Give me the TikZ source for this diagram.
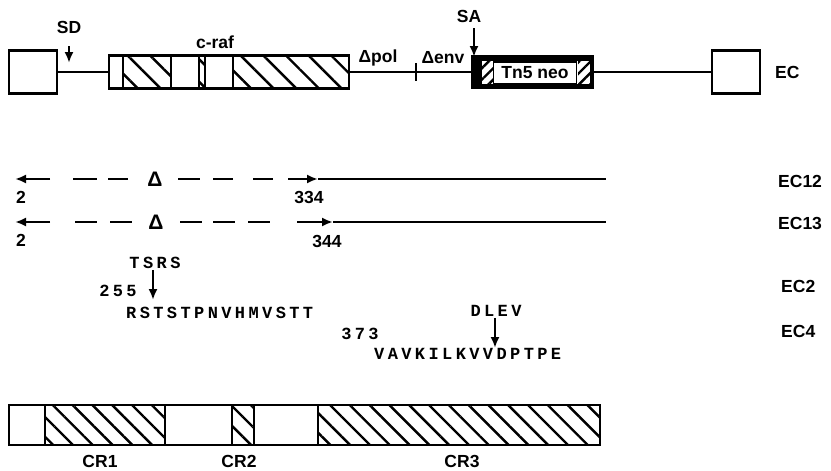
\documentclass[tikz,border=0pt]{standalone}
\usepackage{fontspec}
\setmainfont{Liberation Sans}
\newfontfamily\seqfont[LetterSpace=20]{Liberation Mono Bold}
\usetikzlibrary{arrows.meta,patterns.meta}

\begin{document}
\begin{tikzpicture}[x=1pt, y=-1pt, line width=2.4pt,
  lbl/.style={font=\bfseries\fontsize{17.5}{20}\selectfont, inner sep=0pt},
  seq/.style={font=\seqfont\fontsize{17}{19}\selectfont, inner sep=0pt},
  exon/.style={draw, minimum width=48pt, minimum height=43pt, inner sep=0pt},
  hatch/.style={pattern={Lines[angle=-45, distance=#1, line width=2.4pt]}},
  fwd/.style={-{Latex[length=11pt, width=9pt]}}]
\useasboundingbox (0,0) rectangle (831,471);

% provirus construct
\node[exon] (L) at (33,72) {};
\node[exon] (R) at (736,72) {};
\fill[hatch=16pt] (123,56) rectangle (171,88);
\fill[hatch=16pt] (199,56) rectangle (205,88);
\fill[hatch=16pt] (233,56) rectangle (349,88);
\node[draw, minimum width=240pt, minimum height=33pt, inner sep=0pt] (raf) at (229,72) {};
\foreach \x in {123,171,199,205,233} \draw (\x,56) -- (\x,88);
\node[draw, fill=black, minimum width=121pt, minimum height=32pt, inner sep=0pt] (neobox) at (532.5,72) {};
\fill[white] (482,61) rectangle (590,84);
\fill[pattern={Lines[angle=45, distance=8pt, line width=2.4pt]}] (482,61) rectangle (493,84);
\fill[pattern={Lines[angle=45, distance=8pt, line width=2.4pt]}] (578,61) rectangle (590,84);
\node[lbl, draw, line width=1.4pt, fill=white, minimum width=83pt, minimum height=22pt] (neo) at (535,73) {Tn5 neo};
\draw (L.east) -- (raf.west);
\draw (raf.east) -- (neobox.west);
\draw (neobox.east) -- (R.west);
\draw (416,63) -- (416,81);

\node[lbl] (SD) at (69,27) {SD};
\coordinate (SDp) at (69,63);
\draw[fwd] ([yshift=-12pt]SD.south) -- (SDp);
\node[lbl] (SA) at (469,16) {SA};
\coordinate (SAp) at (474,57);
\draw[fwd] ([yshift=-5pt]SA.south -| SAp) -- (SAp);
\node[lbl] (craf) at (215,42) {c-raf};
\node[lbl] (dpol) at (378,58) {Δpol};
\node[lbl] (denv) at (443,58) {Δenv};
\node[lbl, anchor=west] (EC) at (774,72) {EC};

% deletions
\coordinate (a12) at (15,179);
\coordinate (b12) at (318,179);
\coordinate (e12) at (606,179);
\draw[fwd] (50,179) -- (a12);
\foreach \a/\b in {73/97,108/128,178/200,213/233,253/273} \draw (\a,179) -- (\b,179);
\draw[fwd] (288,179) -- (b12);
\draw (b12) -- (e12);
\node[lbl, font=\bfseries\fontsize{21}{22}\selectfont] (D12) at (155,179) {Δ};
\node[lbl] (s12) at (21,197) {2};
\node[lbl] (x12) at (309,197) {334};
\node[lbl, anchor=west] (EC12) at (777,181) {EC12};

\coordinate (a13) at (15,222);
\coordinate (b13) at (333,222);
\coordinate (e13) at (606,222);
\draw[fwd] (50,222) -- (a13);
\foreach \a/\b in {75/97,110/132,180/202,213/235,248/270} \draw (\a,222) -- (\b,222);
\draw[fwd] (297,222) -- (b13);
\draw (b13) -- (e13);
\node[lbl, font=\bfseries\fontsize{21}{22}\selectfont] (D13) at (156,222) {Δ};
\node[lbl] (s13) at (21,240) {2};
\node[lbl] (x13) at (327,241) {344};
\node[lbl, anchor=west] (EC13) at (777,223) {EC13};

% insertions
\node[seq] (tsrs) at (155,263) {TSRS};
\coordinate (t) at (153,300);
\draw[fwd] (tsrs.south -| t) -- (t);
\node[seq] (n255) at (118,291) {255};
\node[seq, anchor=west] (ec2seq) at (125,313) {RSTSTPNVHMVSTT};
\node[lbl, anchor=west] (EC2) at (780,286) {EC2};

\node[seq] (dlev) at (496,311) {DLEV};
\coordinate (d) at (495,348);
\draw[fwd] (dlev.south -| d) -- (d);
\node[seq] (n373) at (360,334) {373};
\node[seq, anchor=west] (ec4seq) at (373,354) {VAVKILKVVDPTPE};
\node[lbl, anchor=west] (EC4) at (780,331) {EC4};

% conserved regions
\fill[hatch=14pt] (45,405) rectangle (165,445);
\fill[hatch=14pt] (232,405) rectangle (254,445);
\fill[hatch=14pt] (318,405) rectangle (600,445);
\node[draw, minimum width=591pt, minimum height=40pt, inner sep=0pt] (bar) at (304.5,425) {};
\foreach \x in {45,165,232,254,318} \draw (\x,405) -- (\x,445);
\node[lbl] (CR1) at (100,461) {CR1};
\node[lbl] (CR2) at (239,461) {CR2};
\node[lbl] (CR3) at (462,461) {CR3};
\end{tikzpicture}
\end{document}
